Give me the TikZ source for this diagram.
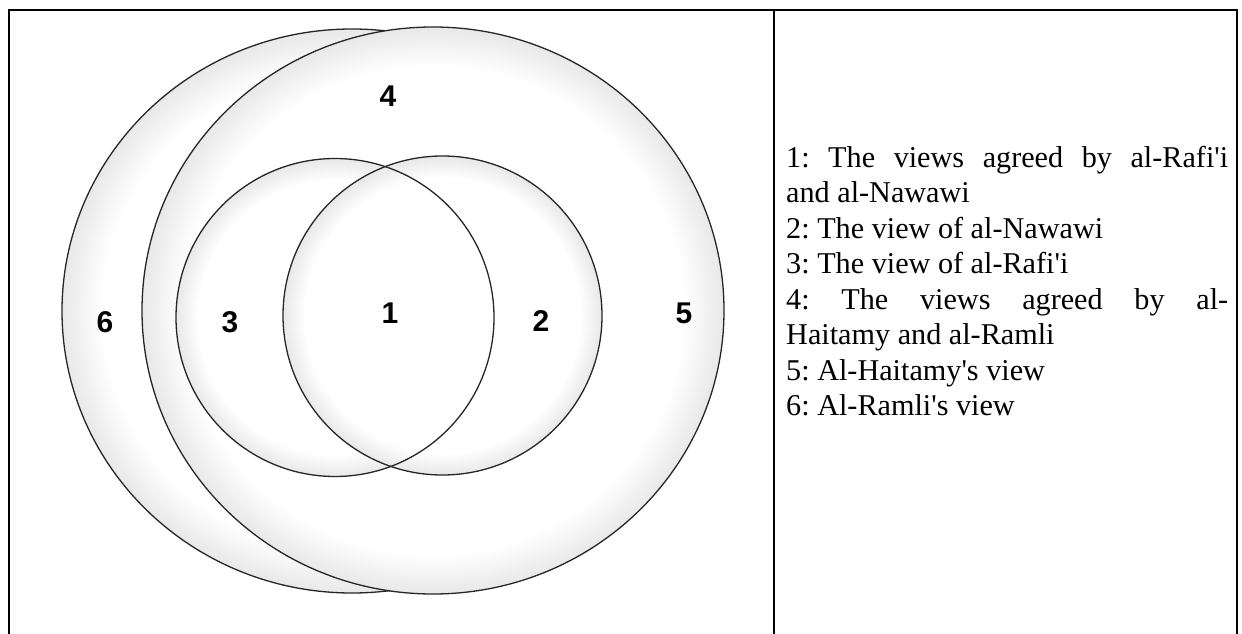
\documentclass[tikz,border=0pt]{standalone}
\usepackage{fontspec}
\setmainfont{Liberation Serif}[Ligatures={TeXOff,CommonOff}]
\newfontfamily\numfont{Liberation Sans}
\usetikzlibrary{positioning}
\pgfdeclareradialshading{vennrim}{\pgfpoint{0bp}{0bp}}{%
  color(0bp)=(white); color(21.5bp)=(white); color(25bp)=(black!9); color(50bp)=(black!9)}

\begin{document}
\frenchspacing
\begin{tikzpicture}[x=1pt, y=-1pt,
    num/.style={font=\numfont\bfseries\fontsize{30}{30}\selectfont, inner sep=0pt},
    ring/.style={draw=black!85, line width=1.3pt},
    rim/.style={shading=vennrim},
    rule/.style={line width=1.6pt},
]
    \useasboundingbox (0,0) rectangle (1242,634);

    % table frame
    \draw[rule] (9,634) -- (9,10) -- (1237,10) -- (1237,634);
    \draw[rule] (774,10) -- (774,634);

    % outer sets (6, 5)
    \coordinate (ramli) at (352,311);
    \coordinate (haitamy) at (433,310.5);
    \shade[rim] (ramli) ellipse [x radius=290pt, y radius=282pt];
    \draw[ring] (ramli) ellipse [x radius=290pt, y radius=282pt];
    \shade[rim] (haitamy) ellipse [x radius=291pt, y radius=283.5pt];
    \draw[ring] (haitamy) ellipse [x radius=291pt, y radius=283.5pt];

    % inner sets (3, 2)
    \coordinate (rafii) at (335,317.5);
    \coordinate (nawawi) at (442.5,315.5);
    \shade[rim] (rafii) circle [radius=159pt];
    \shade[rim] (nawawi) circle [radius=159.5pt];
    \draw[ring] (rafii) circle [radius=159pt];
    \draw[ring] (nawawi) circle [radius=159.5pt];

    \node[num] (n1) at (390,313) {1};
    \node[num] (n2) at (541,321) {2};
    \node[num] (n3) at (230,322) {3};
    \node[num] (n4) at (388,96) {4};
    \node[num] (n5) at (684,313) {5};
    \node[num] (n6) at (105,322) {6};

    \node[anchor=base west, text width=442pt, align=justify, inner sep=0pt,
          font=\fontsize{30.2}{35.5}\selectfont] (legend) at (786,167) {%
        1: The views agreed by al-Rafi'i\linebreak
        and al-Nawawi\\
        2: The view of al-Nawawi\\
        3: The view of al-Rafi'i\\
        4: The views agreed by al-\linebreak
        Haitamy and al-Ramli\\
        5: Al-Haitamy's view\\
        6: Al-Ramli's view};
\end{tikzpicture}
\end{document}
